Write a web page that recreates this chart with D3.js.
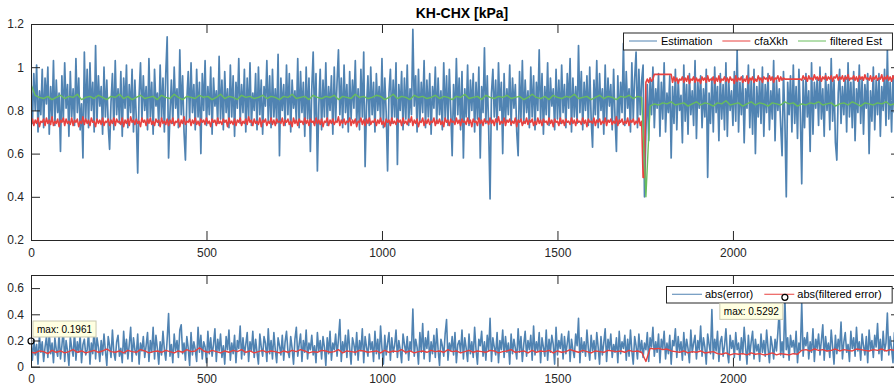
<!DOCTYPE html>
<html>
<head>
<meta charset="utf-8">
<script src="https://cdn.jsdelivr.net/npm/d3@7"></script>
<style>
body { margin: 0; background: #fff; }
svg { display: block; font-family: "Liberation Sans", Arial, sans-serif; }
</style>
</head>
<body>
<svg id="chart" width="894" height="389"></svg>
<script>
// ---- data ----
const xTicks = [0, 500, 1000, 1500, 2000];
const topYTicks = [0.2, 0.4, 0.6, 0.8, 1, 1.2];
const botYTicks = [0, 0.2, 0.4, 0.6];
const xMax = 2476;

const topLegend = ["Estimation", "cfaXkh", "filtered Est"];
const botLegend = ["abs(error)", "abs(filtered error)"];

// sample spacing of each series (samples)
const estStep = 4;
const estimation = [
  .93,.74,.97,.80,1.01,.70,.89,.78,.99,.72,.95,.83,1.00,.69,.91,.76,1.03,.73,.94,.79,
  .88,.61,.96,.75,1.02,.81,.92,.68,.98,.77,.90,.73,1.04,.79,.95,.71,.83,.58,1.07,.76,
  .99,.72,1.02,.80,.93,.70,1.10,.75,.96,.82,.91,.69,1.00,.77,.94,.73,.62,.84,.97,.71,
  1.03,.78,.90,.74,.98,.68,.95,.81,1.01,.72,.92,.79,.99,.70,.94,.76,.51,.87,1.02,.75,
  .96,.80,.91,.71,1.04,.77,.93,.69,.99,.82,.88,.73,1.01,.76,.95,.70,.97,1.14,.58,.79,
  .94,.74,1.00,.81,.90,.72,1.08,.78,.96,.70,.57,.85,.98,.75,1.02,.79,.92,.71,.99,.77,
  .93,.60,.97,.80,1.03,.73,.91,.78,1.00,.69,.95,.82,.89,.74,1.05,.76,.94,.71,.98,.79,
  .90,.72,1.01,.77,.96,.68,.93,.81,1.04,.74,.92,.79,.99,.70,.95,.76,1.02,.73,.88,.80,
  .97,.71,1.00,.78,.94,.69,.91,.82,1.03,.75,.96,.72,.99,.77,.90,.74,1.06,.59,.95,.80,
  .92,.73,1.01,.78,.97,.70,.94,.81,.89,.75,1.04,.72,.98,.79,.93,.68,1.00,.76,.95,.61,
  .90,1.07,.74,.97,.52,.82,.99,.71,.94,.77,1.02,.73,.91,.80,.96,.69,1.00,.75,.93,1.08,
  .78,.95,.72,1.01,.79,.92,.70,.98,.76,.94,.81,1.03,.74,.90,.71,.99,.77,1.07,.54,.82,
  .96,.73,1.00,.78,.93,.70,.97,.80,.91,.75,1.04,.72,.95,.79,.52,.88,.99,.74,.94,.77,
  1.02,.55,.92,.80,.98,.71,.95,.76,1.01,.73,.90,.78,1.175,.82,.96,.70,.99,.75,.93,.79,
  1.03,.72,.94,.77,.97,.69,.91,.81,1.00,.74,.95,.78,.89,.71,1.02,.76,.96,.73,.99,.80,
  .59,.92,.75,1.04,.78,.95,.71,.98,.58,.90,.77,1.01,.73,.94,.80,.97,.70,.93,.76,1.00,
  .58,.91,.79,1.09,.74,.96,.72,.39,.88,.99,.77,.94,.71,1.02,.80,.93,.60,.97,.75,.90,
  .78,1.01,.73,.95,.81,.92,.70,.59,.98,.76,1.03,.74,.94,.79,.89,.72,1.00,.77,.96,.71,
  .93,.80,1.08,.75,.97,.69,.91,.78,1.02,.73,.95,.82,.90,.71,.99,.76,.94,.74,1.01,.79,
  .92,.72,.97,.81,1.04,.70,.95,.77,.91,.74,1.10,.79,.98,.71,.93,.80,.96,.73,1.00,.76,
  .63,.94,.78,1.03,.72,.97,.80,.90,.69,1.01,.75,.95,.82,.92,.71,.99,.77,.61,.96,.74,
  .93,.79,1.11,.73,.98,.81,.90,.70,1.02,.76,.95,1.07,.72,.99,.78,.94,1.01,.40,.70,.92,
  .66,.95,.78,1.00,.72,.90,.81,.97,.68,.93,.76,1.02,.70,.88,.79,.96,.58,.91,.74,.99,
  .71,.94,.80,.87,.65,1.01,.75,.92,.69,.97,.78,.89,.73,1.03,.67,.93,.81,.96,.72,.90,
  .77,.99,.49,.88,.74,.95,.70,1.00,.79,.91,.66,.97,.76,.92,.71,1.02,.68,.94,.80,.89,
  .73,.98,.75,1.08,.70,.93,.78,.96,.65,.90,.81,1.01,.72,.94,.69,.99,.60,.91,.77,.95,
  .74,1.00,.68,.92,.79,.97,.71,.89,.76,1.03,.66,.94,.80,.90,.73,.59,.98,.75,.40,.93,
  .78,.96,.70,1.01,.74,.91,.67,.99,.79,.46,.94,.72,.97,.77,.89,.61,1.02,.69,.93,.81,
  .95,.73,1.00,.76,.90,.68,.97,.80,.92,.71,1.04,.75,.94,.65,.57,.88,.99,.74,.91,.78,
  .96,.70,1.02,.77,.93,.72,.98,.66,.90,.79,1.01,.74,.95,.69,.92,.81,.97,.60,.89,.75,
  1.00,.71,.94,.78,.97,.68,.91,.80,.99,.73,1.08,.76,.93,.70,.96,.79,.90,.74,1.02,.77
];

const cfaStep = 4;
const cfaXkh = [
  .735,.76,.73,.755,.74,.765,.725,.75,.745,.76,.73,.765,.74,.755,.735,.77,.73,.75,.74,.76,
  .725,.755,.745,.765,.73,.76,.74,.75,.735,.765,.73,.755,.745,.76,.725,.75,.74,.77,.735,.76,
  .74,.755,.73,.765,.745,.75,.725,.76,.74,.755,.735,.765,.73,.75,.745,.76,.73,.755,.74,.765,
  .73,.76,.745,.75,.735,.765,.725,.755,.74,.76,.73,.77,.745,.755,.735,.76,.74,.75,.725,.765,
  .745,.755,.73,.76,.74,.765,.735,.75,.73,.76,.745,.755,.725,.765,.74,.75,.735,.76,.73,.755,
  .74,.765,.73,.75,.745,.76,.725,.755,.74,.77,.735,.75,.745,.76,.73,.755,.74,.765,.735,.75,
  .73,.76,.745,.755,.735,.765,.74,.75,.725,.76,.745,.755,.73,.765,.74,.75,.735,.76,.745,.755,
  .725,.765,.74,.75,.735,.76,.73,.755,.745,.765,.73,.75,.74,.76,.735,.77,.745,.755,.73,.76,
  .74,.75,.735,.765,.725,.755,.745,.76,.73,.75,.74,.765,.735,.755,.73,.76,.745,.75,.74,.765,
  .73,.755,.745,.76,.735,.75,.725,.765,.74,.755,.73,.76,.745,.75,.735,.765,.74,.755,.73,.76,
  .745,.75,.73,.765,.74,.755,.735,.76,.725,.75,.745,.765,.73,.755,.74,.76,.735,.75,.745,.77,
  .73,.755,.74,.76,.735,.75,.745,.765,.73,.755,.74,.76,.725,.75,.745,.765,.735,.755,.73,.76,
  .74,.765,.735,.75,.745,.76,.73,.755,.74,.765,.735,.75,.725,.76,.745,.755,.73,.765,.74,.75,
  .735,.76,.745,.755,.73,.765,.74,.75,.735,.76,.745,.77,.73,.755,.74,.76,.725,.75,.745,.765,
  .73,.755,.74,.76,.735,.75,.745,.765,.73,.755,.74,.76,.735,.75,.725,.765,.745,.755,.73,.76,
  .745,.75,.735,.765,.74,.755,.73,.76,.745,.75,.735,.765,.74,.755,.725,.76,.745,.75,.73,.765,
  .74,.755,.73,.76,.745,.75,.735,.765,.74,.755,.73,.76,.745,.77,.735,.75,.74,.765,.73,.755,
  .745,.76,.735,.75,.74,.765,.725,.755,.745,.76,.73,.75,.74,.765,.735,.755,.745,.76,.73,.75,
  .735,.765,.74,.755,.73,.76,.745,.75,.735,.765,.74,.755,.725,.76,.745,.75,.73,.765,.74,.755,
  .73,.76,.745,.75,.735,.765,.74,.755,.73,.76,.745,.75,.735,.765,.74,.755,.725,.76,.745,.75,
  .74,.765,.73,.755,.745,.76,.735,.75,.74,.765,.73,.755,.745,.76,.735,.75,.74,.77,.73,.755,
  .745,.76,.735,.75,.74,.765,.73,.755,.745,.76,.735,.75,.74,.765,.73,.75,
  .49,.49,.93,
  .945,.93,.95,.935,.945,
  .967,.967,.967,.967,.967,.967,.967,.967,.967,.967,.967,.967,.967,
  .93,.955,.935,.95,.925,.945,.94,.955,.93,.95,.935,.96,.925,.945,.94,.955,.93,.95,.935,.945,
  .925,.955,.94,.95,.93,.96,.935,.945,.94,.955,.925,.95,.935,.96,.93,.945,.94,.955,.935,.95,
  .93,.955,.94,.945,.925,.96,.935,.95,.94,.955,.93,.945,.935,.96,.925,.95,.94,.955,.93,.945,
  .935,.96,.94,.95,.93,.955,.945,.95,.935,.96,.94,.955,.93,.95,.945,.96,.935,.955,.94,.95,.945,
  .945,.945,.945,.945,.945,.945,.945,.945,.945,.945,.945,
  .94,.96,.945,.955,.935,.96,.945,.95,.94,.965,.945,.955,.94,.96,.935,.955,.945,.96,.94,.955,
  .945,.96,.935,.955,.95,.965,.94,.955,.945,.96,.935,.955,.945,.965,.94,.95,.945,.96,.94,.955,
  .935,.96,.945,.955,.94,.965,.945,.95,.94,.96,.935,.955,.945,.96,.94,.95,.945,.965,.935,.955,
  .945,.96,.94,.955,.935,.96,.945,.95,.94,.96,.945
];

const filtStep = 12;
const filteredEst = [
  .92,.87,.86,.855,.865,.85,.86,.87,.855,.865,.86,.875,.85,.86,.865,.855,.87,.86,.85,.865,
  .86,.875,.855,.865,.85,.86,.87,.855,.86,.865,.85,.87,.86,.855,.875,.86,.85,.865,.86,.855,
  .87,.86,.865,.85,.86,.875,.855,.865,.86,.85,.87,.86,.865,.855,.86,.87,.855,.865,.86,.85,
  .865,.86,.875,.855,.86,.865,.85,.87,.86,.855,.865,.86,.87,.85,.865,.86,.855,.875,.86,.865,
  .855,.86,.87,.865,.85,.86,.875,.855,.865,.86,.85,.87,.86,.865,.855,.86,.87,.855,.865,.86,
  .85,.865,.86,.875,.855,.86,.865,.85,.87,.86,.855,.865,.86,.87,.855,.86,.865,.85,.86,.875,
  .86,.855,.865,.85,.87,.86,.855,.865,.86,.875,.855,.86,.865,.85,.86,.87,.855,.865,.86,.85,
  .865,.86,.87,.855,.865,.86,
  .40,
  .82,.83,.825,.835,.83,.84,.825,.83,.835,.82,.83,.84,.825,.835,.83,.82,.835,.83,.845,.825,
  .83,.835,.82,.83,.84,.825,.835,.83,.82,.835,.83,.825,.84,.83,.835,.82,.83,.825,.835,.83,
  .84,.825,.83,.835,.82,.83,.835,.825,.84,.83,.82,.835,.83,.825,.835,.83,.84,.825,.83,.835
];

const errStep = 4;
const absError = [
  .1961,.05,.21,.09,.17,.02,.24,.11,.19,.04,.15,.23,.07,.26,.10,.18,.03,.22,.13,.08,
  .25,.06,.16,.29,.04,.20,.12,.01,.23,.14,.08,.27,.05,.19,.11,.24,.03,.17,.21,.09,
  .13,.26,.02,.18,.10,.31,.06,.22,.15,.04,.20,.09,.25,.12,.01,.23,.16,.07,.28,.11,
  .05,.19,.24,.08,.14,.03,.27,.10,.21,.06,.17,.30,.04,.22,.13,.09,.25,.02,.18,.12,
  .23,.07,.16,.26,.04,.20,.11,.30,.06,.24,.14,.02,.19,.09,.27,.13,.05,.21,.405,.08,
  .17,.03,.25,.12,.20,.07,.28,.32,.10,.18,.05,.23,.14,.01,.26,.09,.19,.13,.04,.30,
  .11,.24,.06,.19,.15,.03,.27,.10,.22,.08,.17,.29,.04,.21,.12,.25,.07,.16,.02,.23,
  .13,.28,.05,.18,.10,.24,.03,.20,.14,.31,.06,.22,.09,.17,.26,.04,.19,.12,.27,.07,
  .21,.11,.02,.25,.15,.08,.23,.18,.04,.29,.10,.20,.06,.26,.13,.03,.22,.16,.09,.24,
  .05,.19,.27,.12,.07,.23,.14,.02,.21,.30,.08,.17,.25,.04,.20,.11,.28,.06,.18,.13,
  .24,.09,.16,.03,.26,.12,.20,.06,.23,.15,.01,.22,.10,.27,.05,.18,.13,.25,.08,.21,
  .36,.04,.19,.11,.24,.07,.28,.14,.02,.22,.17,.09,.26,.05,.20,.12,.29,.03,.23,.15,
  .08,.25,.13,.19,.04,.27,.10,.21,.06,.31,.14,.02,.24,.09,.18,.26,.05,.22,.11,.16,
  .28,.07,.20,.13,.03,.25,.17,.10,.23,.05,.19,.12,.44,.08,.21,.15,.02,.26,.11,.33,
  .06,.22,.14,.27,.04,.19,.10,.24,.07,.29,.13,.01,.21,.16,.08,.25,.36,.05,.18,.12,
  .23,.09,.26,.03,.17,.20,.11,.28,.06,.22,.14,.04,.25,.10,.19,.07,.30,.13,.02,.21,
  .16,.27,.08,.19,.05,.24,.12,.37,.04,.22,.15,.09,.26,.03,.20,.13,.28,.07,.23,.11,
  .18,.02,.25,.10,.21,.14,.06,.29,.11,.23,.04,.17,.27,.08,.20,.13,.24,.05,.31,.09,
  .19,.12,.26,.03,.22,.15,.08,.28,.05,.21,.11,.24,.17,.02,.30,.09,.20,.14,.25,.06,
  .23,.10,.18,.27,.04,.21,.13,.07,.25,.16,.37,.03,.22,.11,.19,.08,.28,.14,.05,.24,
  .12,.20,.06,.26,.15,.02,.23,.09,.18,.29,.04,.21,.13,.25,.07,.17,.11,.22,.03,.27,
  .10,.19,.14,.24,.05,.21,.08,.28,.12,.02,.23,.16,.06,.25,.11,.20,.07,.18,.13,.26,
  .04,.22,.15,.30,.08,.19,.11,.25,.03,.21,.14,.27,.06,.18,.10,.24,.02,.20,.16,.29,
  .07,.23,.12,.19,.05,.26,.09,.21,.14,.03,.28,.11,.18,.24,.06,.20,.13,.31,.08,.22,
  .15,.02,.25,.17,.10,.436,.06,.21,.12,.27,.04,.19,.23,.08,.16,.29,.11,.03,.24,.14,
  .20,.07,.26,.13,.18,.05,.22,.10,.30,.15,.02,.24,.09,.19,.27,.06,.21,.12,.17,.04,
  .25,.11,.20,.08,.28,.14,.03,.23,.16,.06,.21,.12,.26,.43,.09,.19,.07,.5292,.13,.22,
  .05,.24,.15,.20,.10,.27,.03,.18,.12,.49,.08,.22,.16,.26,.06,.19,.11,.29,.04,.21,
  .14,.25,.09,.20,.32,.05,.23,.12,.18,.07,.28,.15,.02,.24,.10,.21,.13,.34,.06,.19,
  .26,.11,.17,.04,.27,.14,.22,.08,.30,.12,.19,.05,.25,.16,.09,.23,.03,.28,.13,.20,
  .07,.24,.15,.33,.10,.21,.05,.27,.12,.18,.41,.09,.23,.14,.03,.26,.17,.11,.29,.06
];

const ferrStep = 12;
const absFilteredError = [
  .11,.105,.12,.115,.10,.125,.11,.12,.105,.115,.13,.11,.12,.105,.115,.125,.11,.12,.135,.115,
  .11,.12,.105,.125,.115,.11,.13,.12,.105,.115,.12,.11,.125,.115,.105,.12,.11,.13,.115,.12,
  .145,.12,.11,.125,.115,.105,.12,.11,.125,.115,.13,.11,.12,.105,.115,.125,.11,.12,.115,.105,
  .12,.11,.125,.115,.13,.12,.105,.115,.11,.125,.12,.11,.115,.13,.105,.12,.115,.11,.125,.12,
  .11,.115,.12,.105,.125,.11,.12,.115,.13,.11,.12,.105,.115,.12,.11,.125,.115,.12,.11,.13,
  .115,.12,.105,.115,.125,.11,.12,.115,.11,.125,.12,.105,.115,.12,.13,.11,.115,.12,.105,.125,
  .11,.12,.115,.125,.105,.12,.11,.115,.13,.12,.11,.125,.115,.105,.12,.115,.11,.125,.12,.115,
  .12,.11,.125,.115,.12,.11,.04,
  .14,.135,.14,.13,.135,
  .12,.115,.11,.12,.105,.115,.11,.12,.105,.11,.115,
  .10,.095,.105,.09,.10,.095,.10,.09,.105,.095,.10,.09,.095,.105,.09,.10,.095,.09,.10,.095,
  .125,.13,.12,.135,.125,.13,.12,.125,.135,.12,.13,.125,.12,.135,.13,.125,.12,.13,.125,.135,.12,.13,.125,.13
];

// data tips on the error plot
const tipX = [0, 2148];
const tipY = [0.1961, 0.5292];
const tipLabels = ["max: 0.1961", "max: 0.5292"];

// ---- drawing ----
const svg = d3.select("#chart");
const blue = "#5083b2", red = "#e8413f", green = "#68bd5c", ink = "#262626";
const left = 31, right = 900, tick = 9;

const x = d3.scaleLinear().domain([0, xMax]).range([left, right]);

function panel(id, top, bottom, ydom, yTicks) {
  const y = d3.scaleLinear().domain(ydom).range([bottom, top]);

  svg.append("clipPath").attr("id", id)
    .append("rect")
    .attr("x", left).attr("y", top)
    .attr("width", right - left).attr("height", bottom - top);

  const plot = svg.append("g").attr("clip-path", `url(#${id})`);
  return {y, top, bottom, plot, yTicks};
}

function drawAxes(p) {
  const g = svg.append("g");
  const style = sel => {
    sel.select(".domain").remove();
    sel.attr("font-family", null).attr("font-size", 12);
    sel.selectAll("line").attr("stroke", ink);
    sel.selectAll("text").attr("fill", ink);
  };
  g.append("g").attr("transform", `translate(0,${p.bottom})`)
    .call(d3.axisBottom(x).tickValues(xTicks).tickSize(-tick).tickPadding(8).tickFormat(d3.format("d")))
    .call(style);
  g.append("g").attr("transform", `translate(0,${p.top})`)
    .call(d3.axisTop(x).tickValues(xTicks).tickSize(-tick).tickFormat(""))
    .call(style);
  g.append("g").attr("transform", `translate(${left},0)`)
    .call(d3.axisLeft(p.y).tickValues(p.yTicks).tickSize(-tick).tickPadding(7).tickFormat(d => String(+d.toFixed(1))))
    .call(style);
  g.append("g").attr("transform", `translate(${right},0)`)
    .call(d3.axisRight(p.y).tickValues(p.yTicks).tickSize(-tick).tickFormat(""))
    .call(style);
  g.append("rect")
    .attr("x", left + 0.5).attr("y", p.top + 0.5)
    .attr("width", right - left).attr("height", p.bottom - p.top)
    .attr("fill", "none").attr("stroke", ink).attr("stroke-width", 1);
}

function drawLine(p, values, step, color, width) {
  const line = d3.line()
    .x((d, i) => x(i * step))
    .y(d => p.y(d));
  p.plot.append("path")
    .datum(values)
    .attr("d", line)
    .attr("fill", "none")
    .attr("stroke", color)
    .attr("stroke-width", width)
    .attr("stroke-linejoin", "round");
}

function drawLegend(labels, colors, boxRight, boxTop, boxH, lineLen, textGap, itemGap) {
  const g = svg.append("g");
  const rect = g.append("rect");
  const mid = boxTop + boxH / 2;
  let cx = 6;
  labels.forEach((label, i) => {
    g.append("line")
      .attr("x1", cx).attr("x2", cx + lineLen)
      .attr("y1", mid).attr("y2", mid)
      .attr("stroke", colors[i]).attr("stroke-width", 1);
    const t = g.append("text")
      .attr("x", cx + lineLen + textGap).attr("y", mid)
      .attr("dy", "0.36em")
      .attr("font-size", 11).attr("fill", "#000")
      .text(label);
    cx += lineLen + textGap + t.node().getComputedTextLength() + itemGap;
  });
  const w = cx - itemGap + 10;
  rect.attr("x", 0.5).attr("y", boxTop + 0.5).attr("width", w).attr("height", boxH)
    .attr("fill", "#fff").attr("stroke", ink).attr("stroke-width", 1);
  g.attr("transform", `translate(${Math.round(boxRight - w)},0)`);
}

// top panel
const pTop = panel("clipTop", 24, 240, [0.2, 1.2], topYTicks);
drawLine(pTop, estimation, estStep, blue, 1.7);
drawLine(pTop, cfaXkh, cfaStep, red, 1.6);
drawLine(pTop, filteredEst, filtStep, green, 1.4);
drawAxes(pTop);

// bottom panel
const pBot = panel("clipBot", 275, 366.7, [0, 0.7], botYTicks);
drawLine(pBot, absError, errStep, blue, 1.6);
drawLine(pBot, absFilteredError, ferrStep, red, 1.4);
drawAxes(pBot);

// title
svg.append("text")
  .attr("x", 462).attr("y", 18)
  .attr("text-anchor", "middle")
  .attr("font-size", 14).attr("font-weight", "bold").attr("fill", "#000")
  .text("KH-CHX [kPa]");

drawLegend(topLegend, [blue, red, green], 892, 32.5, 17, 28, 4, 10);
drawLegend(botLegend, [blue, red], 892, 286, 16.5, 30, 3, 11);

// data tips
tipX.forEach((tx, i) => {
  const px = x(tx), py = pBot.y(tipY[i]);
  const g = svg.append("g");
  const rect = g.append("rect");
  const t = g.append("text").attr("font-size", 10).attr("fill", "#000").text(tipLabels[i]);
  const w = t.node().getComputedTextLength() + 8, h = 16;
  const bx = i === 0 ? px + 2 : px - 2 - w;
  const by = i === 0 ? py - 4 - h : py + 6;
  rect.attr("x", bx).attr("y", by).attr("width", w).attr("height", h)
    .attr("fill", "#ffffe1").attr("stroke", "#c8c8b0").attr("stroke-width", 1);
  t.attr("x", bx + 4).attr("y", by + h / 2).attr("dy", "0.35em");
  g.append("circle")
    .attr("cx", px).attr("cy", py).attr("r", 3)
    .attr("fill", "#fff").attr("fill-opacity", 0.4)
    .attr("stroke", "#000").attr("stroke-width", 1.2);
});
</script>
</body>
</html>
